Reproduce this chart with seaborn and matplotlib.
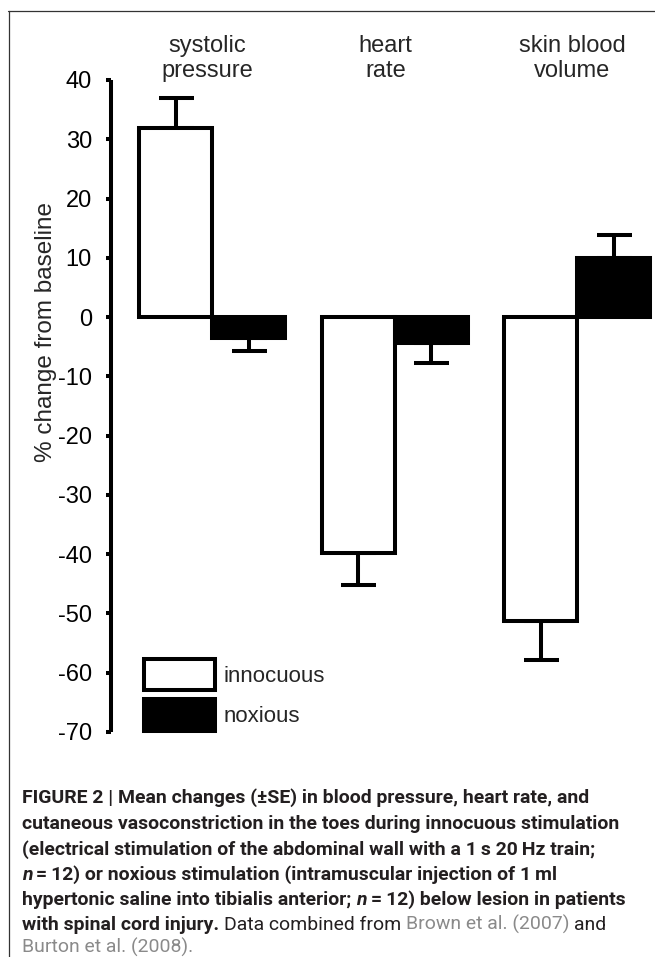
import matplotlib
matplotlib.use("Agg")
import matplotlib.pyplot as plt
import matplotlib.transforms as mtransforms
from matplotlib.patches import Patch
from matplotlib.lines import Line2D
from matplotlib.font_manager import FontProperties
import seaborn as sns
import pandas as pd

# ---------------- data ----------------
categories = ["systolic\npressure", "heart\nrate", "skin blood\nvolume"]
conditions = ["innocuous", "noxious"]
innocuous_mean = [31.9, -39.8, -51.3]
noxious_mean = [-3.5, -4.4, 9.9]
innocuous_se = [5.0, 5.4, 6.5]
noxious_se = [2.2, 3.3, 4.0]
y_ticks = [40, 30, 20, 10, 0, -10, -20, -30, -40, -50, -60, -70]
y_label = "% change from baseline"

caption_lines = [
    [("FIGURE 2 | Mean changes (\u00b1SE) in blood pressure, heart rate, and", "b")],
    [("cutaneous vasoconstriction in the toes during innocuous stimulation", "b")],
    [("(electrical stimulation of the abdominal wall with a 1\u2009s 20\u2009Hz train;", "b")],
    [("n", "bi"), ("\u2009=\u200912) or noxious stimulation (intramuscular injection of 1\u2009ml", "b")],
    [("hypertonic saline into tibialis anterior;", "b"), (" n", "bi"),
     ("\u2009=\u200912) below lesion in patients", "b")],
    [("with spinal cord injury.", "b"), (" Data combined from", "n"),
     (" Brown et al. (2007)", "g"), (" and", "n")],
    [("Burton et al. (2008).", "g")],
]

# ---------------- style ----------------
sns.set_style("white")
plt.rcParams["font.family"] = ["Liberation Sans", "DejaVu Sans"]
CHART_FONT = "Liberation Sans"

W, H = 655, 957
fig = plt.figure(figsize=(W / 100, H / 100), dpi=100)
fig.patch.set_facecolor("white")

ax_left, ax_right = 111, 655
ax_top, ax_bottom = 80, 732
ax = fig.add_axes([ax_left / W, 1 - ax_bottom / H,
                   (ax_right - ax_left) / W, (ax_bottom - ax_top) / H])

df = pd.DataFrame({
    "category": categories * 2,
    "condition": [conditions[0]] * 3 + [conditions[1]] * 3,
    "value": innocuous_mean + noxious_mean,
})

sns.barplot(data=df, x="category", y="value", hue="condition",
            order=categories, hue_order=conditions,
            palette={"innocuous": "white", "noxious": "black"},
            edgecolor="black", linewidth=2.9, width=0.8,
            errorbar=None, legend=False, ax=ax, zorder=2)

# one-sided error bars (away from zero)
for cont, means, ses in zip(ax.containers, [innocuous_mean, noxious_mean],
                            [innocuous_se, noxious_se]):
    for bar, m, se in zip(cont, means, ses):
        xc = bar.get_x() + bar.get_width() / 2
        yerr = [[0], [se]] if m > 0 else [[se], [0]]
        ax.errorbar([xc], [m], yerr=yerr, fmt="none", ecolor="black",
                    elinewidth=2.9, capsize=12.6, capthick=2.9, zorder=1)

ax.set_xlim(-0.555, 2.425)
ax.set_ylim(-70, 40)
ax.set_yticks(y_ticks)
ax.set_yticklabels([str(t) for t in y_ticks], fontsize=17, family=CHART_FONT)
ax.tick_params(axis="y", direction="out", length=3.8, width=2.9, pad=10,
               colors="black", left=True)
ax.tick_params(axis="x", bottom=False, labelbottom=False)
ax.set_xlabel("")
ax.set_ylabel(y_label, fontsize=17.5, family=CHART_FONT)
ax.yaxis.set_label_coords(-0.1, 0.613)
for s in ["top", "right", "bottom"]:
    ax.spines[s].set_visible(False)
ax.spines["left"].set_linewidth(2.9)
ax.spines["left"].set_color("black")
ax.spines["left"].set_capstyle("butt")
ax.patch.set_alpha(0)

# category labels on top
trans = mtransforms.blended_transform_factory(ax.transData, fig.transFigure)
label_dx = [-0.03, -0.05, -0.03]
for i, (cat, dx) in enumerate(zip(categories, label_dx)):
    ax.text(i + dx, 1 - 82 / H, cat, transform=trans, ha="center",
            va="bottom", fontsize=17, family=CHART_FONT, multialignment="center")

# legend
handles = [Patch(facecolor="white", edgecolor="black", linewidth=2.9, label=conditions[0]),
           Patch(facecolor="black", edgecolor="black", linewidth=2.9, label=conditions[1])]
ax.legend(handles=handles, loc="upper left",
          bbox_to_anchor=(143.5 / W, 1 - 659 / H), bbox_transform=fig.transFigure,
          frameon=False, prop=FontProperties(family=CHART_FONT, size=16),
          handlelength=3.2, handleheight=1.78,
          handletextpad=0.4, labelspacing=0.42, borderpad=0, borderaxespad=0)

# figure frame lines
fig.add_artist(Line2D([8 / W, 1], [1 - 11 / H, 1 - 11 / H], transform=fig.transFigure,
                      color="#333333", linewidth=0.9))
fig.add_artist(Line2D([9 / W, 9 / W], [1 - 11 / H, 0], transform=fig.transFigure,
                      color="#333333", linewidth=0.9))

# ---------------- caption ----------------
CAP_FONT = "Roboto"

styles = {
    "b": dict(weight="bold", style="normal", color="#231f20"),
    "bi": dict(weight="bold", style="italic", color="#231f20"),
    "n": dict(weight="normal", style="normal", color="#231f20"),
    "g": dict(weight="normal", style="normal", color="#8a8a8a"),
}

renderer = fig.canvas.get_renderer()


def text_width(s, st, fs):
    t = fig.text(0, 0, s, fontsize=fs, family=CAP_FONT,
                 weight=styles[st]["weight"], style=styles[st]["style"])
    w = t.get_window_extent(renderer).width
    t.remove()
    return w


def space_width(st, fs):
    return text_width("a a", st, fs) - text_width("aa", st, fs)


def line_width(segs, fs):
    total = 0
    for txt, st in segs:
        if txt.startswith(" "):
            total += space_width(st, fs)
            txt = txt[1:]
        total += text_width(txt, st, fs)
    return total


ref_fs = 10
target = 606.0
cap_fs = ref_fs * target / line_width(caption_lines[4], ref_fs)

x0 = 22
baselines = [803, 829, 855, 880, 905, 930, 953]
for segs, yb in zip(caption_lines, baselines):
    x = x0
    for txt, st in segs:
        if txt.startswith(" "):
            x += space_width(st, cap_fs)
            txt = txt[1:]
        fig.text(x / W, 1 - yb / H, txt, fontsize=cap_fs, family=CAP_FONT,
                 weight=styles[st]["weight"], style=styles[st]["style"],
                 color=styles[st]["color"], ha="left", va="baseline")
        x += text_width(txt, st, cap_fs)

fig.savefig("out.png", dpi=100, facecolor="white")
